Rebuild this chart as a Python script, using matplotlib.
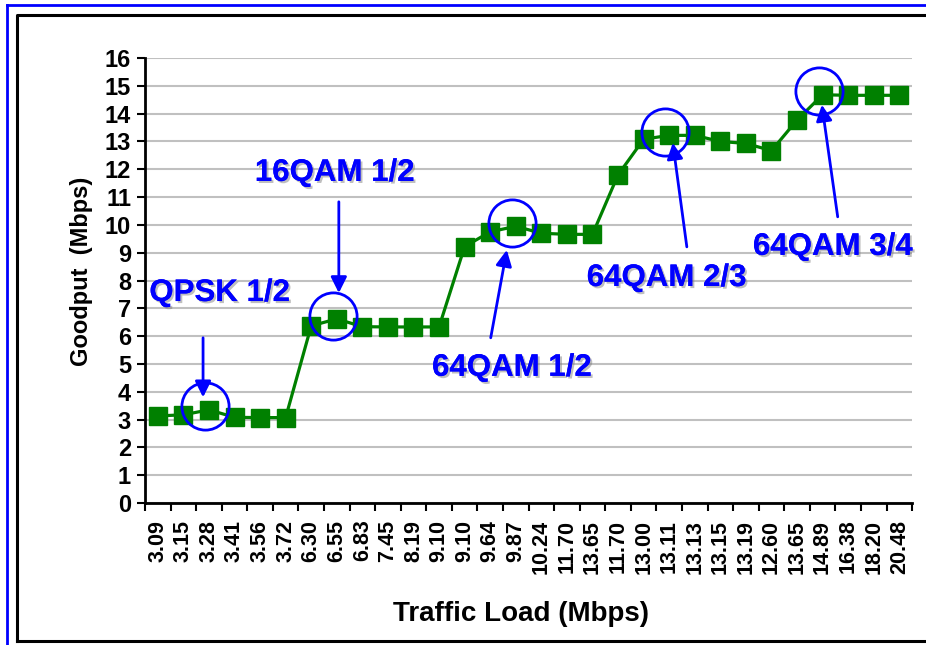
import matplotlib
matplotlib.use('Agg')
import matplotlib.pyplot as plt
import matplotlib.patheffects as pe
from matplotlib.lines import Line2D

plt.rcParams['font.family'] = ['Liberation Sans', 'DejaVu Sans']
plt.rcParams['font.weight'] = 'bold'

# traffic load categories (Mbps) and measured goodput (Mbps)
loads = ['3.09', '3.15', '3.28', '3.41', '3.56', '3.72', '6.30', '6.55', '6.83', '7.45',
         '8.19', '9.10', '9.10', '9.64', '9.87', '10.24', '11.70', '13.65', '11.70', '13.00',
         '13.11', '13.13', '13.15', '13.19', '12.60', '13.65', '14.89', '16.38', '18.20', '20.48']
goodput = [3.13, 3.17, 3.35, 3.08, 3.07, 3.07, 6.37, 6.62, 6.34, 6.33,
           6.33, 6.33, 9.22, 9.75, 9.95, 9.7, 9.66, 9.66, 11.8, 13.08,
           13.22, 13.22, 13.0, 12.93, 12.67, 13.77, 14.68, 14.66, 14.66, 14.66]

# modulation switch points: label, index of circled point
mod_labels = ['QPSK 1/2', '16QAM 1/2', '64QAM 1/2', '64QAM 2/3', '64QAM 3/4']
mod_points = [2, 7, 14, 20, 26]
label_pos = [(2.42, 7.55), (6.92, 11.87), (13.85, 4.86), (19.9, 8.09), (26.4, 9.21)]
arrow_tail = [(1.77, 5.94), (7.08, 10.83), (13.02, 5.94), (20.69, 9.21), (26.59, 10.29)]
arrow_tip = [(1.77, 3.8), (7.08, 7.55), (13.65, 9.1), (20.14, 12.95), (25.97, 14.32)]

fig = plt.figure(figsize=(9.26, 6.45), dpi=100)
ax = fig.add_axes([0.1566, 0.2202, 0.8284, 0.6898])

x = list(range(len(loads)))
ax.plot(x, goodput, color='#008000', lw=2.3, marker='s', markersize=13, zorder=3)

for idx, (tx, ty), tail, tip in zip(mod_points, label_pos, arrow_tail, arrow_tip):
    ax.plot(idx - 0.15, goodput[idx] + 0.12, marker='o', markersize=34,
            markerfacecolor='none', markeredgecolor='#0000ff', mew=2, zorder=4)
    ax.annotate('', xy=tip, xytext=tail,
                arrowprops=dict(arrowstyle='-|>', color='#0000ff', lw=2, mutation_scale=24,
                                shrinkA=0, shrinkB=0), zorder=5)
for lab, (tx, ty) in zip(mod_labels, label_pos):
    ax.text(tx, ty, lab, color='#0000ff', fontsize=22.5, fontweight='bold',
            ha='center', va='center', zorder=5,
            path_effects=[pe.withSimplePatchShadow(offset=(1.5, -1.5), shadow_rgbFace='gray', alpha=0.5),
                          pe.Normal()])

ax.set_xlim(-0.5, len(loads) - 0.5)
ax.set_ylim(0, 16)
ax.set_yticks(range(0, 17))
ax.set_xticks(x)
ax.set_xticklabels(loads, rotation=90)
ax.set_xticks([i - 0.5 for i in range(len(loads) + 1)], minor=True)
ax.tick_params(axis='x', which='major', length=0, pad=12, labelsize=15.5)
ax.tick_params(axis='x', which='minor', length=6, width=1.5, direction='out')
ax.tick_params(axis='y', length=6, width=1.5, direction='out', labelsize=17, pad=4)
ax.yaxis.grid(True, color='#c0c0c0', lw=1.5)
ax.set_axisbelow(True)
for s in ['top', 'right']:
    ax.spines[s].set_visible(False)
for s in ['left', 'bottom']:
    ax.spines[s].set_linewidth(2)

ax.set_xlabel('Traffic Load (Mbps)', fontsize=20, fontweight='bold')
ax.set_ylabel('Goodput  (Mbps)', fontsize=17, fontweight='bold')
ax.xaxis.set_label_coords(0.49, -0.22)
ax.yaxis.set_label_coords(-0.068, 0.52)

# outer frames
W, H = 926, 645
fig.add_artist(Line2D([7 / W, 7 / W], [0, 1 - 5 / H], color='#0000ff', lw=2))
fig.add_artist(Line2D([7 / W, 1], [1 - 5 / H, 1 - 5 / H], color='#0000ff', lw=2))
fig.add_artist(Line2D([17 / W, 17 / W, 1], [1 - 641 / H, 1 - 15 / H, 1 - 15 / H], color='black', lw=2.2))
fig.add_artist(Line2D([17 / W, 1], [1 - 641 / H, 1 - 641 / H], color='black', lw=2.2))

fig.savefig('out.png', dpi=100)
